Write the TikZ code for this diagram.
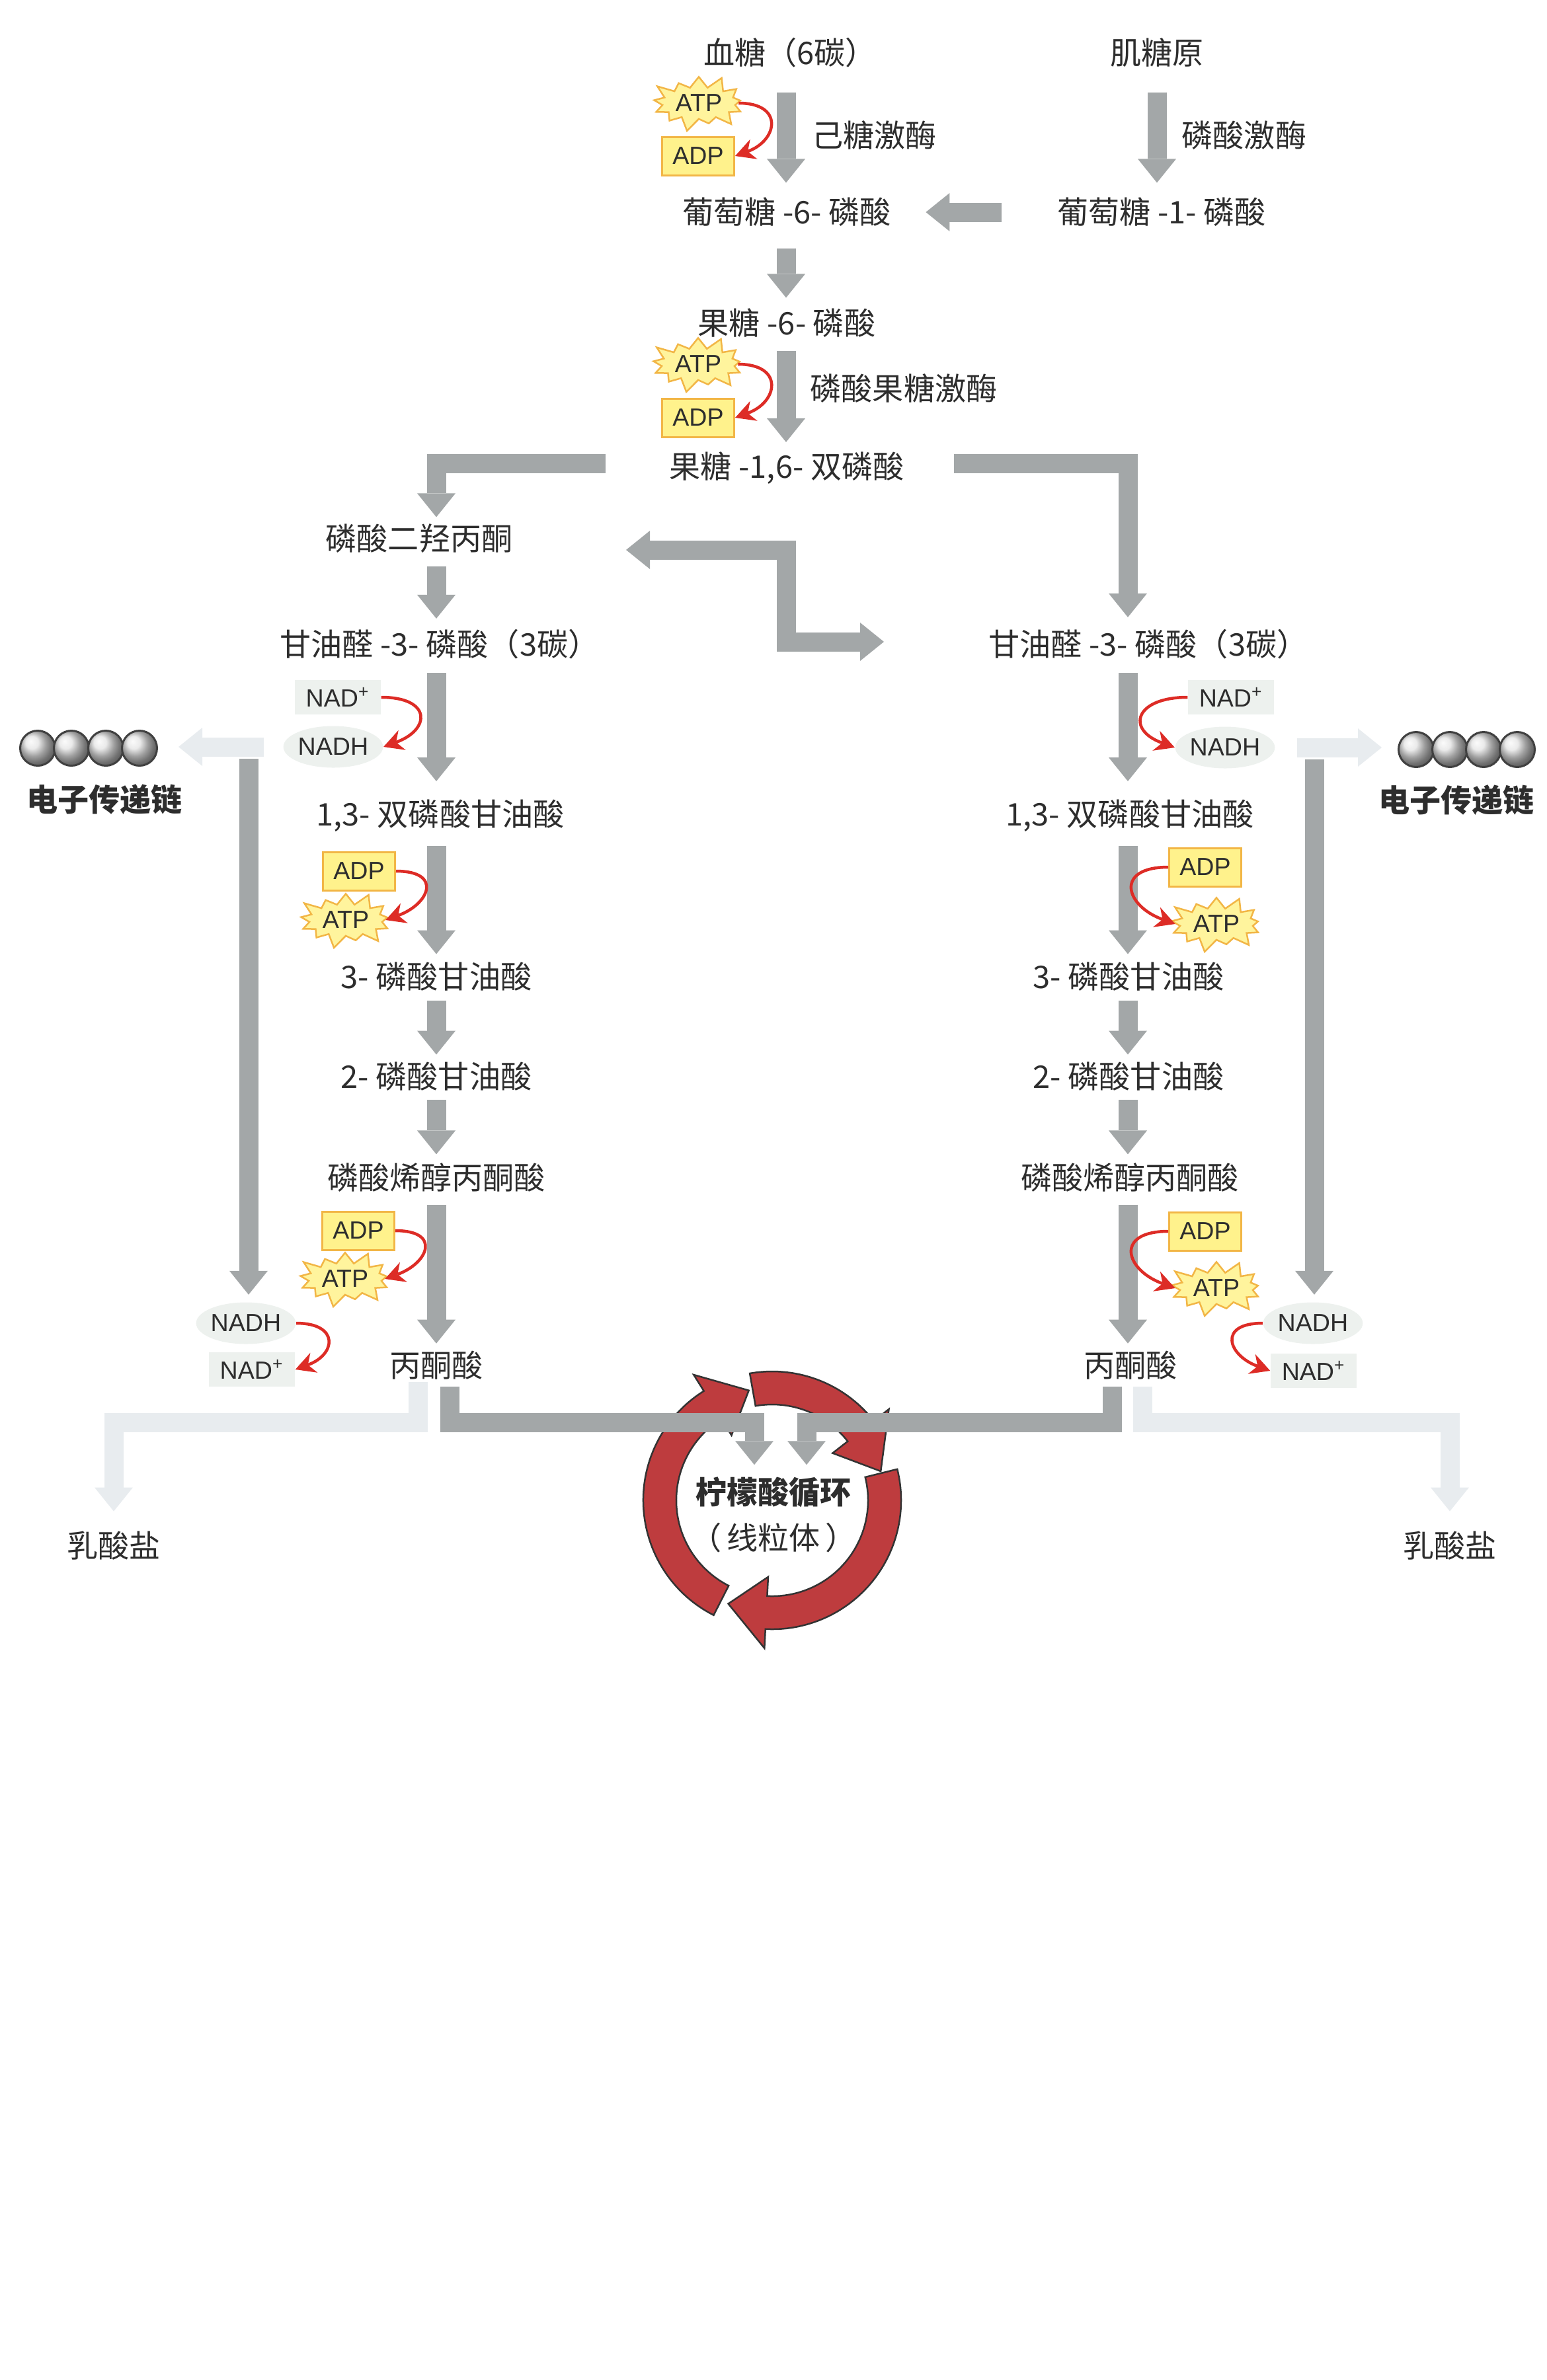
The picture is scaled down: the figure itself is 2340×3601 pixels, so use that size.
\documentclass[tikz,border=0pt]{standalone}
\usepackage{fontspec}
\setmainfont{Noto Sans CJK SC}
\newfontfamily\tagfont{Liberation Sans}
\usetikzlibrary{arrows.meta,shapes.geometric,shapes.symbols}

\definecolor{bargrey}{RGB}{163,167,168}
\definecolor{fadegrey}{RGB}{232,236,239}
\definecolor{tagyellow}{RGB}{255,242,140}
\definecolor{tagorange}{RGB}{242,182,70}
\definecolor{curvered}{RGB}{221,44,38}
\definecolor{cyclered}{RGB}{190,60,62}
\definecolor{nadshade}{RGB}{237,241,238}
\definecolor{inkgrey}{RGB}{45,45,45}

\newcommand{\cyclepiece}[3]{%
  \filldraw[fill=cyclered, draw=black!80, line width=0.25mm] (#1:195) arc[start angle=#1, end angle=#2, radius=195] -- (#2:224) -- (#3:170) -- (#2:116) -- (#2:145) arc[start angle=#2, end angle=#1, radius=145] -- cycle;}

\begin{document}
\begin{tikzpicture}[x=0.1mm, y=-0.1mm,
  lbl/.style={inner sep=0pt, text=inkgrey, font=\fontsize{13.4pt}{16pt}\selectfont},
  boldlbl/.style={inner sep=0pt, text=inkgrey, font=\fontsize{13.4pt}{16pt}\selectfont\bfseries},
  atpstar/.style={starburst, starburst points=13, starburst point height=2.2mm, fill=tagyellow!85!white, draw=tagorange, line width=0.25mm, inner sep=0.4mm, minimum width=10.5mm, minimum height=6.2mm, text=inkgrey, font=\tagfont\fontsize{10.7pt}{12pt}\selectfont},
  adpbox/.style={rectangle, fill=tagyellow, draw=tagorange, line width=0.3mm, minimum width=10.9mm, minimum height=5.8mm, inner sep=0pt, text=inkgrey, font=\tagfont\fontsize{10.7pt}{12pt}\selectfont},
  nadbox/.style={rectangle, fill=nadshade, minimum width=13mm, minimum height=5.2mm, inner sep=0pt, text=inkgrey, font=\tagfont\fontsize{10.7pt}{12pt}\selectfont},
  nadhell/.style={ellipse, fill=nadshade, minimum width=13.6mm, minimum height=6.3mm, inner sep=0pt, text=inkgrey, font=\tagfont\fontsize{10.7pt}{12pt}\selectfont},
  etcball/.style={circle, minimum size=5.3mm, inner sep=0pt, draw=black!75, line width=0.3mm, shading=ball, ball color=gray!22},
  bigarrow/.style={draw=bargrey, line width=2.9mm, -{Triangle[width=5.8mm,length=3.6mm,line width=0pt]}},
  fadearrow/.style={bigarrow, draw=fadegrey},
  curvearrow/.style={draw=curvered, line width=0.45mm, -{Stealth[length=3mm,width=3.2mm,line width=0pt]}}]

\useasboundingbox (0,0) rectangle (2340,3601);
%\draw[step=100,gray,very thin] (0,0) grid (2340,3601);

% citric acid cycle ring, under the bars
\begin{scope}[shift={(1168,2270)}, yscale=-1]
\cyclepiece{243}{122}{102}
\cyclepiece{100}{38}{15}
\cyclepiece{14}{-93}{-113}
\end{scope}

\node[lbl] (glc) at (1195,80) {血糖（6碳）};
\node[lbl] (gly) at (1750,80) {肌糖原};
\node[atpstar] (atpA) at (1057,156) {ATP};
\node[adpbox] (adpA) at (1056,236) {ADP};
\node[lbl, anchor=west] (hk) at (1228,205) {己糖激酶};
\node[lbl, anchor=west] (pgm) at (1787,205) {磷酸激酶};
\node[lbl] (g6p) at (1190,321) {葡萄糖 -6- 磷酸};
\node[lbl] (g1p) at (1757,321) {葡萄糖 -1- 磷酸};
\node[lbl] (f6p) at (1190,489) {果糖 -6- 磷酸};
\node[atpstar] (atpB) at (1056,551) {ATP};
\node[adpbox] (adpB) at (1056,632) {ADP};
\node[lbl, anchor=west] (pfk) at (1225,588) {磷酸果糖激酶};
\node[lbl] (fbp) at (1190,708) {果糖 -1,6- 双磷酸};

\node[lbl] (dhap) at (634,815) {磷酸二羟丙酮};
\node[lbl] (gapL) at (665,975) {甘油醛 -3- 磷酸（3碳）};
\node[lbl] (gapR) at (1737,975) {甘油醛 -3- 磷酸（3碳）};
\node[nadbox] (nadL1) at (511,1055) {NAD\textsuperscript{+}};
\node[nadhell] (nadhL1) at (504,1130) {NADH};
\node[nadbox] (nadR1) at (1862,1055) {NAD\textsuperscript{+}};
\node[nadhell] (nadhR1) at (1853,1131) {NADH};
\foreach \i/\x in {1/57,2/108,3/160,4/211} \node[etcball] (cL\i) at (\x,1132) {};
\foreach \i/\x in {1/2142,2/2193,3/2244,4/2295} \node[etcball] (cR\i) at (\x,1134) {};
\node[boldlbl] (etcL) at (158,1210) {电子传递链};
\node[boldlbl] (etcR) at (2203,1211) {电子传递链};
\node[lbl] (bpgL) at (666,1234) {1,3- 双磷酸甘油酸};
\node[lbl] (bpgR) at (1709,1234) {1,3- 双磷酸甘油酸};
\node[adpbox] (adpL1) at (543,1318) {ADP};
\node[atpstar] (atpL1) at (523,1392) {ATP};
\node[adpbox] (adpR1) at (1823,1312) {ADP};
\node[atpstar] (atpR1) at (1840,1398) {ATP};
\node[lbl] (pg3L) at (660,1478) {3- 磷酸甘油酸};
\node[lbl] (pg3R) at (1707,1478) {3- 磷酸甘油酸};
\node[lbl] (pg2L) at (660,1629) {2- 磷酸甘油酸};
\node[lbl] (pg2R) at (1707,1629) {2- 磷酸甘油酸};
\node[lbl] (pepL) at (660,1782) {磷酸烯醇丙酮酸};
\node[lbl] (pepR) at (1709,1782) {磷酸烯醇丙酮酸};
\node[adpbox] (adpL2) at (542,1862) {ADP};
\node[atpstar] (atpL2) at (522,1935) {ATP};
\node[adpbox] (adpR2) at (1823,1863) {ADP};
\node[atpstar] (atpR2) at (1840,1949) {ATP};
\node[nadhell] (nadhL2) at (372,2002) {NADH};
\node[nadbox] (nadL2) at (381,2072) {NAD\textsuperscript{+}};
\node[nadhell] (nadhR2) at (1986,2002) {NADH};
\node[nadbox] (nadR2) at (1987,2074) {NAD\textsuperscript{+}};
\node[lbl] (pyrL) at (660,2066) {丙酮酸};
\node[lbl] (pyrR) at (1710,2066) {丙酮酸};
\node[lbl] (lacL) at (172,2339) {乳酸盐};
\node[lbl] (lacR) at (2193,2339) {乳酸盐};
\node[boldlbl] (tca) at (1170,2258) {柠檬酸循环};
\node[lbl] (mito) at (1170,2327) {（\,线粒体\,）};

\coordinate (colM) at (1189,0);
\coordinate (colL) at (660,0);
\coordinate (colR) at (1706,0);
\coordinate (zl) at (947,832);
\coordinate (zr) at (1337,971);
\coordinate (dropL) at (376,1148);
\coordinate (dropR) at (1988,1149);

% pale side routes
\draw[fadearrow, shorten <=2.9mm, shorten >=3.1mm] (nadhL1.west) -- (nadhL1.west -| cL4.east);
\draw[fadearrow, shorten <=3.3mm, shorten >=2.4mm] (nadhR1.east) -- (nadhR1.east -| cR1.west);
\draw[fadearrow, shorten >=3mm] ([xshift=-2.8mm, yshift=-0.3mm]pyrL.south) -- ++(0,61) -| (lacL.north);
\draw[fadearrow, shorten >=3mm] ([xshift=1.8mm, yshift=-1mm]pyrR.south) -- ++(0,54) -| (lacR.north);

\draw[bigarrow, shorten <=3.7mm, shorten >=2.2mm] (glc.south -| colM) -- (g6p.north -| colM);
\draw[bigarrow, shorten <=3.7mm, shorten >=2.2mm] (gly.south) -- (gly.south |- g1p.north);
\draw[bigarrow, shorten <=8.4mm, shorten >=5.2mm] (g1p.west) -- (g6p.east);
\draw[bigarrow, shorten <=3.2mm, shorten >=1.6mm] (g6p.south -| colM) -- (f6p.north -| colM);
\draw[bigarrow, shorten <=1.9mm, shorten >=1.4mm] (f6p.south -| colM) -- (fbp.north -| colM);
\draw[bigarrow, shorten >=1mm] ([xshift=-9.6mm, yshift=0.7mm]fbp.west) -| (dhap.north -| colL);
\draw[bigarrow, shorten >=1.8mm] ([xshift=7.5mm, yshift=0.7mm]fbp.east) -| (gapR.north -| colR);
\draw[bigarrow, {Triangle[width=5.8mm,length=3.6mm,line width=0pt]}-{Triangle[width=5.8mm,length=3.6mm,line width=0pt]}] (zl) -- ++(242,0) |- (zr);

\draw[bigarrow, shorten <=1.9mm, shorten >=1.6mm] (dhap.south -| colL) -- (gapL.north -| colL);
\draw[bigarrow, shorten <=2mm, shorten >=2.7mm] (gapL.south -| colL) -- (bpgL.north -| colL);
\draw[bigarrow, shorten <=2mm, shorten >=2.7mm] (gapR.south -| colR) -- (bpgR.north -| colR);
\draw[bigarrow, shorten <=2.1mm, shorten >=1.2mm] (bpgL.south -| colL) -- (pg3L.north -| colL);
\draw[bigarrow, shorten <=2.1mm, shorten >=1.2mm] (bpgR.south -| colR) -- (pg3R.north -| colR);
\draw[bigarrow, shorten <=1.4mm, shorten >=1.1mm] (pg3L.south -| colL) -- (pg2L.north -| colL);
\draw[bigarrow, shorten <=1.4mm, shorten >=1.1mm] (pg3R.south -| colR) -- (pg2R.north -| colR);
\draw[bigarrow, shorten <=1.3mm, shorten >=1.3mm] (pg2L.south -| colL) -- (pepL.north -| colL);
\draw[bigarrow, shorten <=1.3mm, shorten >=1.3mm] (pg2R.south -| colR) -- (pepR.north -| colR);
\draw[bigarrow, shorten <=1.8mm, shorten >=1.1mm] (pepL.south -| colL) -- (pyrL.north -| colL);
\draw[bigarrow, shorten <=1.8mm, shorten >=1.1mm] (pepR.south -| colR) -- (pyrR.north -| colR);

\draw[bigarrow, shorten >=1.1mm] (dropL) -- (dropL |- nadhL2.north);
\draw[bigarrow, shorten >=1.1mm] (dropR) -- (dropR |- nadhR2.north);

\draw[bigarrow, shorten >=1.8mm] ([xshift=2mm, yshift=-1mm]pyrL.south) -- ++(0,54) -| ([xshift=-2.9mm]tca.north);
\draw[bigarrow, shorten >=1.8mm] ([xshift=-2.8mm, yshift=-1mm]pyrR.south) -- ++(0,54) -| ([xshift=5mm]tca.north);

% red side reactions
\draw[curvearrow] (atpA.east) to[out=0, in=20, looseness=2.2] (adpA.east);
\draw[curvearrow] (atpB.east) to[out=0, in=20, looseness=2.2] (adpB.east);
\draw[curvearrow] (nadL1.east) to[out=0, in=20, looseness=2.6] (nadhL1.east);
\draw[curvearrow] (nadR1.west) to[out=180, in=160, looseness=2.6] (nadhR1.west);
\draw[curvearrow] (adpL1.east) to[out=0, in=20, looseness=2.4] (atpL1.east);
\draw[curvearrow] (adpR1.west) to[out=180, in=160, looseness=2.4] (atpR1.west);
\draw[curvearrow] (adpL2.east) to[out=0, in=20, looseness=2.4] (atpL2.east);
\draw[curvearrow] (adpR2.west) to[out=180, in=160, looseness=2.4] (atpR2.west);
\draw[curvearrow] (nadhL2.east) to[out=0, in=20, looseness=2.4] (nadL2.east);
\draw[curvearrow] (nadhR2.west) to[out=180, in=160, looseness=2.4] (nadR2.west);

\end{tikzpicture}
\end{document}
